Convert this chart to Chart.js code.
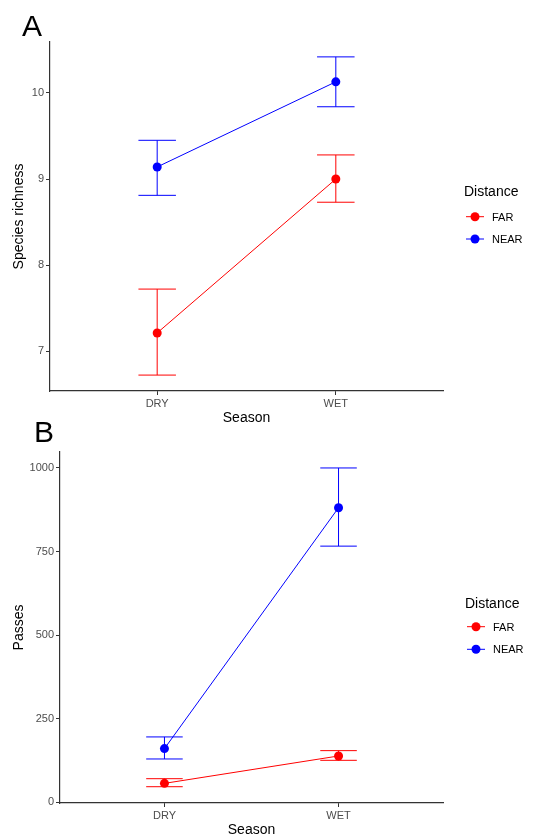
<!DOCTYPE html>
<html>
<head>
<meta charset="utf-8">
<script src="https://cdn.jsdelivr.net/npm/chart.js@4"></script>
<style>
  html, body { margin: 0; padding: 0; background: #fff; overflow: hidden; }
  body { width: 547px; height: 837px; position: relative; }
  canvas { position: absolute; left: 0; }
  #chartA { top: 0; }
  #chartB { top: 415px; }
</style>
</head>
<body>
<canvas id="chartA" width="547" height="430"></canvas>
<canvas id="chartB" width="547" height="424"></canvas>
<script>
const seasons = ['DRY', 'WET'];
const distances = ['FAR', 'NEAR'];
const distanceColors = ['#FF0000', '#0000FF'];

// panel A - species richness (mean, lower, upper)
const richnessFar = [7.21, 9.00];
const richnessFarLo = [6.72, 8.73];
const richnessFarHi = [7.72, 9.28];
const richnessNear = [9.14, 10.13];
const richnessNearLo = [8.81, 9.84];
const richnessNearHi = [9.45, 10.42];
const richnessTicks = [7, 8, 9, 10];

// panel B - passes
const passesFar = [56, 138];
const passesFarLo = [46, 125];
const passesFarHi = [70, 154];
const passesNear = [160, 881];
const passesNearLo = [129, 766];
const passesNearHi = [195, 1000];
const passesTicks = [0, 250, 500, 750, 1000];

const chartFont = '"Liberation Sans", Arial, sans-serif';
const axisGrey = '#333333';
const tickGrey = '#4D4D4D';

const errorBars = {
    id: 'errorBars',
    beforeDatasetsDraw(chart) {
        const ctx = chart.ctx;
        const x = chart.scales.x;
        const y = chart.scales.y;
        const cap = (x.getPixelForValue(2) - x.getPixelForValue(1)) * 0.105;
        chart.data.datasets.forEach(ds => {
            ctx.save();
            ctx.strokeStyle = ds.borderColor;
            ctx.lineWidth = 1;
            ds.data.forEach((p, i) => {
                const px = x.getPixelForValue(p.x);
                const lo = y.getPixelForValue(ds.errLo[i]);
                const hi = y.getPixelForValue(ds.errHi[i]);
                ctx.beginPath();
                ctx.moveTo(px, lo); ctx.lineTo(px, hi);
                ctx.moveTo(px - cap, lo); ctx.lineTo(px + cap, lo);
                ctx.moveTo(px - cap, hi); ctx.lineTo(px + cap, hi);
                ctx.stroke();
            });
            ctx.restore();
        });
    }
};

const panelDecor = {
    id: 'panelDecor',
    afterDraw(chart, args, opts) {
        const ctx = chart.ctx;
        ctx.save();
        ctx.fillStyle = '#000';
        ctx.textBaseline = 'alphabetic';
        ctx.font = '30px ' + chartFont;
        ctx.fillText(opts.tag, opts.tagX, opts.tagY);

        ctx.font = '14px ' + chartFont;
        ctx.fillText('Distance', opts.legendX, opts.titleY);

        chart.data.datasets.forEach((ds, i) => {
            const cy = opts.itemY + i * opts.itemGap;
            const cx = opts.legendX + 11;
            ctx.strokeStyle = ds.borderColor;
            ctx.lineWidth = 1;
            ctx.beginPath();
            ctx.moveTo(cx - 9, cy);
            ctx.lineTo(cx + 9, cy);
            ctx.stroke();
            ctx.fillStyle = ds.borderColor;
            ctx.beginPath();
            ctx.arc(cx, cy, 4.5, 0, Math.PI * 2);
            ctx.fill();
            ctx.fillStyle = '#000';
            ctx.font = '11px ' + chartFont;
            ctx.fillText(ds.label, opts.legendX + 28, cy + 4);
        });
        ctx.restore();
    }
};

function makeDataset(i, values, lo, hi) {
    return {
        label: distances[i],
        data: values.map((v, j) => ({ x: j + 1, y: v })),
        errLo: lo,
        errHi: hi,
        borderColor: distanceColors[i],
        backgroundColor: distanceColors[i],
        borderWidth: 1,
        pointRadius: 4.5,
        pointBorderWidth: 0,
        pointHoverRadius: 4.5,
        tension: 0
    };
}

function makePanel(id, datasets, yTitle, yTicks, yMin, yMax, yWidth, pad, decor) {
    const ctx = document.getElementById(id).getContext('2d');
    return new Chart(ctx, {
        type: 'line',
        data: { datasets: datasets },
        plugins: [errorBars, panelDecor],
        options: {
            responsive: false,
            animation: false,
            devicePixelRatio: 1,
            events: [],
            layout: { padding: pad },
            plugins: {
                legend: { display: false },
                tooltip: { enabled: false },
                panelDecor: decor
            },
            scales: {
                x: {
                    type: 'linear',
                    min: 0.4,
                    max: 2.6,
                    afterBuildTicks: s => { s.ticks = seasons.map((_, i) => ({ value: i + 1 })); },
                    afterFit: s => { s.height = 36; },
                    ticks: {
                        callback: v => seasons[v - 1],
                        font: { family: chartFont, size: 11 },
                        color: tickGrey,
                        padding: 2,
                        maxRotation: 0,
                        autoSkip: false
                    },
                    grid: { drawOnChartArea: false, color: axisGrey, tickLength: 4 },
                    border: { color: axisGrey, width: 1.2 },
                    title: {
                        display: true,
                        text: 'Season',
                        color: '#000',
                        font: { family: chartFont, size: 14 },
                        padding: { top: 0, bottom: 0 }
                    }
                },
                y: {
                    min: yMin,
                    max: yMax,
                    afterBuildTicks: s => { s.ticks = yTicks.map(v => ({ value: v })); },
                    afterFit: s => { s.width = yWidth; },
                    ticks: {
                        callback: v => String(v),
                        font: { family: chartFont, size: 11 },
                        color: tickGrey,
                        padding: 2
                    },
                    grid: { drawOnChartArea: false, color: axisGrey, tickLength: 4 },
                    border: { color: axisGrey, width: 1.2 },
                    title: {
                        display: true,
                        text: yTitle,
                        color: '#000',
                        font: { family: chartFont, size: 14 },
                        padding: { top: 10.5, bottom: 0 }
                    }
                }
            }
        }
    });
}

makePanel('chartA', [
    makeDataset(0, richnessFar, richnessFarLo, richnessFarHi),
    makeDataset(1, richnessNear, richnessNearLo, richnessNearHi)
], 'Species richness', richnessTicks, 6.535, 10.593, 50,
    { top: 42, right: 104, bottom: 3, left: 0 },
    { tag: 'A', tagX: 22, tagY: 36, legendX: 464, titleY: 196, itemY: 216.7, itemGap: 22.3 });

makePanel('chartB', [
    makeDataset(0, passesFar, passesFarLo, passesFarHi),
    makeDataset(1, passesNear, passesNearLo, passesNearHi)
], 'Passes', passesTicks, -2.75, 1047.75, 60,
    { top: 37, right: 104, bottom: 0, left: 0 },
    { tag: 'B', tagX: 34, tagY: 26.7, legendX: 465, titleY: 192.5, itemY: 211.7, itemGap: 22.6 });
</script>
</body>
</html>
